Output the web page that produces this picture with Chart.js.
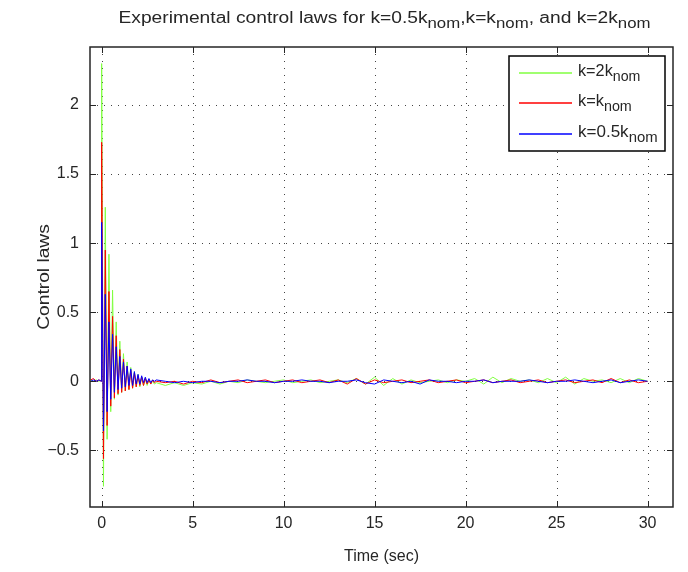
<!DOCTYPE html>
<html>
<head>
<meta charset="utf-8">
<script src="https://cdn.jsdelivr.net/npm/chart.js@4/dist/chart.umd.min.js"></script>
<style>
html, body { margin: 0; padding: 0; background: #fff; }
</style>
</head>
<body>
<canvas id="c" width="688" height="572"></canvas>
<script>
// time axis (sec): short lead-in, dense transient, coarser tail
const time = [
  -0.6, -0.45, -0.3, -0.15, -0.02,
  0, 0.1, 0.2, 0.3, 0.4, 0.5, 0.6, 0.7, 0.8, 0.9, 1.0, 1.1, 1.2, 1.3, 1.4, 1.5,
  1.6, 1.7, 1.8, 1.9, 2.0, 2.1, 2.2, 2.3, 2.4, 2.5, 2.6, 2.7, 2.8, 2.9, 3.0,
  3.5, 4, 4.5, 5, 5.5, 6, 6.5, 7, 7.5, 8, 8.5, 9, 9.5, 10, 10.5, 11, 11.5, 12, 12.5, 13,
  13.5, 14, 14.5, 15, 15.5, 16, 16.5, 17, 17.5, 18, 18.5, 19, 19.5, 20, 20.5, 21, 21.5, 22, 22.5, 23,
  23.5, 24, 24.5, 25, 25.5, 26, 26.5, 27, 27.5, 28, 28.5, 29, 29.5, 30
];
// k = 2 knom
const kDouble = [
  0.01, 0.0, 0.01, 0.0, 0.01,
  2.30, -0.76, 1.26, -0.42, 0.92, -0.22, 0.66, -0.13, 0.43, -0.10, 0.29, -0.08, 0.20, -0.07, 0.14, -0.06,
  0.10, -0.05, 0.07, -0.04, 0.05, -0.04, 0.03, -0.03, 0.02, -0.03, 0.01, -0.02, 0.0, -0.02, -0.01,
  -0.03, -0.01, -0.03, -0.01, -0.02, 0.0, -0.02, 0.0, -0.01, 0.01, 0.0, -0.01, 0.0, 0.01, -0.01, 0.0, 0.01, -0.01, 0.0, 0.01,
  -0.01, 0.02, -0.02, 0.03, -0.03, 0.02, -0.02, 0.01, -0.01, 0.0, 0.01, -0.01, 0.01, 0.0, 0.02, -0.02, 0.03, -0.01, 0.02, 0.0,
  0.01, -0.01, 0.02, -0.01, 0.03, -0.02, 0.02, 0.0, 0.01, -0.01, 0.02, -0.01, 0.02, 0.0
];
// k = knom
const kNom = [
  0.01, 0.02, 0.0, 0.01, 0.0,
  1.73, -0.56, 0.95, -0.32, 0.65, -0.18, 0.47, -0.12, 0.33, -0.09, 0.23, -0.08, 0.16, -0.07, 0.11, -0.06,
  0.08, -0.05, 0.06, -0.04, 0.04, -0.03, 0.03, -0.03, 0.02, -0.02, 0.01, -0.02, 0.01, -0.01, 0.0,
  -0.01, 0.0, -0.02, 0.0, -0.01, 0.01, -0.01, 0.0, 0.01, -0.01, 0.0, 0.01, -0.01, 0.0, 0.01, -0.01, 0.0, 0.01, -0.01, 0.01,
  -0.02, 0.02, -0.02, 0.01, -0.01, 0.0, 0.01, -0.01, 0.0, 0.01, -0.01, 0.0, 0.01, -0.01, 0.0, 0.01, -0.01, 0.0, 0.01, -0.01,
  0.0, 0.01, -0.01, 0.0, 0.01, -0.01, 0.0, 0.01, -0.01, 0.02, -0.01, 0.01, -0.01, 0.0
];
// k = 0.5 knom
const kHalf = [
  0.0, 0.01, 0.0, 0.01, 0.0,
  1.15, -0.36, 0.63, -0.22, 0.43, -0.13, 0.34, -0.08, 0.25, -0.06, 0.18, -0.05, 0.14, -0.04, 0.11, -0.03,
  0.09, -0.03, 0.07, -0.02, 0.05, -0.02, 0.04, -0.01, 0.03, -0.01, 0.02, -0.01, 0.01, 0.0, 0.01,
  0.0, -0.01, 0.0, -0.01, 0.0, 0.0, -0.01, 0.0, 0.0, 0.01, 0.0, 0.0, -0.01, 0.0, 0.0, 0.01, 0.0, 0.0, -0.01, 0.0,
  0.0, 0.01, -0.01, -0.02, 0.01, 0.0, -0.01, 0.0, -0.02, 0.01, 0.0, 0.0, -0.01, 0.0, 0.0, 0.01, -0.01, 0.0, 0.0, 0.0,
  0.01, 0.0, -0.01, 0.0, 0.0, 0.01, 0.0, -0.01, 0.0, 0.01, -0.01, 0.0, 0.01, 0.0
];
const xTicks = [0, 5, 10, 15, 20, 25, 30];
const yTicks = [-0.5, 0, 0.5, 1, 1.5, 2];
const seriesNames = [['k=2k', 'nom'], ['k=k', 'nom'], ['k=0.5k', 'nom']];
const seriesColors = ['#80ff40', '#ff0000', '#0000ff'];

const FONT = '"Liberation Sans", Arial, sans-serif';
const INK = '#262626';

// text made of [text, isSubscript] pieces, optionally stretched to a width
function richWidth(ctx, parts, size, subSize) {
  let w = 0;
  parts.forEach(([t, sub]) => {
    ctx.font = (sub ? subSize : size) + 'px ' + FONT;
    w += ctx.measureText(t).width;
  });
  return w;
}
function drawRich(ctx, parts, x, baseY, size, subSize, align, width) {
  const w = richWidth(ctx, parts, size, subSize);
  const sx = width ? width / w : 1;
  ctx.save();
  ctx.translate(align === 'center' ? x - w * sx / 2 : x, baseY);
  ctx.scale(sx, 1);
  ctx.textAlign = 'left';
  ctx.textBaseline = 'alphabetic';
  let cx = 0;
  parts.forEach(([t, sub]) => {
    ctx.font = (sub ? subSize : size) + 'px ' + FONT;
    ctx.fillText(t, cx, sub ? size * 0.3 : 0);
    cx += ctx.measureText(t).width;
  });
  ctx.restore();
}

const matlabFrame = {
  id: 'matlabFrame',
  beforeDatasetsDraw(chart) {
    const { ctx, chartArea: a, scales: { x, y } } = chart;
    ctx.save();
    ctx.strokeStyle = '#444';
    ctx.lineWidth = 1;
    ctx.setLineDash([1, 6]);
    xTicks.forEach(v => {
      const px = Math.round(x.getPixelForValue(v)) + 0.5;
      ctx.beginPath(); ctx.moveTo(px, a.top); ctx.lineTo(px, a.bottom); ctx.stroke();
    });
    yTicks.forEach(v => {
      const py = Math.round(y.getPixelForValue(v)) + 0.5;
      ctx.beginPath(); ctx.moveTo(a.left, py); ctx.lineTo(a.right, py); ctx.stroke();
    });
    ctx.restore();
  },
  afterDatasetsDraw(chart) {
    const { ctx, chartArea: a, scales: { x, y } } = chart;
    ctx.save();
    // axes box + inward ticks
    ctx.strokeStyle = INK;
    ctx.lineWidth = 1.5;
    ctx.strokeRect(a.left, a.top, a.right - a.left, a.bottom - a.top);
    ctx.lineWidth = 1;
    const tl = 6;
    ctx.beginPath();
    xTicks.forEach(v => {
      const px = Math.round(x.getPixelForValue(v)) + 0.5;
      ctx.moveTo(px, a.bottom); ctx.lineTo(px, a.bottom - tl);
      ctx.moveTo(px, a.top); ctx.lineTo(px, a.top + tl);
    });
    yTicks.forEach(v => {
      const py = Math.round(y.getPixelForValue(v)) + 0.5;
      ctx.moveTo(a.left, py); ctx.lineTo(a.left + tl, py);
      ctx.moveTo(a.right, py); ctx.lineTo(a.right - tl, py);
    });
    ctx.stroke();

    // legend
    const lx = 509, ly = 56, lw = 156, lh = 95;
    ctx.fillStyle = '#fff';
    ctx.fillRect(lx, ly, lw, lh);
    ctx.strokeStyle = '#000';
    ctx.lineWidth = 1.5;
    ctx.strokeRect(lx, ly, lw, lh);
    const rows = [73, 103, 134];
    seriesNames.forEach((name, i) => {
      ctx.strokeStyle = seriesColors[i];
      ctx.lineWidth = 1.6;
      ctx.beginPath(); ctx.moveTo(519, rows[i]); ctx.lineTo(572, rows[i]); ctx.stroke();
      ctx.fillStyle = INK;
      drawRich(ctx, [[name[0], false], [name[1], true]], 578, rows[i] + 3, 16, 14, 'left', name[0].length * 8.6 + 28);
    });

    // title
    const cx = (a.left + a.right) / 2;
    ctx.fillStyle = INK;
    drawRich(ctx, [
      ['Experimental control laws for k=0.5k', false], ['nom', true],
      [',k=k', false], ['nom', true],
      [', and k=2k', false], ['nom', true]
    ], cx + 3, 23, 16, 14, 'center', 532);

    // axis labels
    ctx.font = '16px ' + FONT;
    ctx.textAlign = 'center';
    ctx.textBaseline = 'middle';
    ctx.fillText('Time (sec)', cx, 557);
    ctx.translate(45, (a.top + a.bottom) / 2);
    ctx.rotate(-Math.PI / 2);
    ctx.scale(1.2, 1);
    ctx.fillText('Control laws', 0, 0);
    ctx.restore();
  }
};

const pts = arr => time.map((t, i) => ({ x: t, y: arr[i] }));

new Chart(document.getElementById('c'), {
  type: 'line',
  data: {
    datasets: [
      { label: 'k=2knom', data: pts(kDouble), borderColor: seriesColors[0], order: 3 },
      { label: 'k=knom', data: pts(kNom), borderColor: seriesColors[1], order: 2 },
      { label: 'k=0.5knom', data: pts(kHalf), borderColor: seriesColors[2], order: 1 }
    ]
  },
  options: {
    responsive: false,
    animation: false,
    layout: { padding: { left: 0, right: 15, top: 47, bottom: 0 } },
    elements: { point: { radius: 0 }, line: { borderWidth: 1, tension: 0 } },
    plugins: { legend: { display: false }, title: { display: false }, tooltip: { enabled: false } },
    scales: {
      x: {
        type: 'linear', min: -0.64, max: 31.4,
        afterFit: s => { s.height = 65; },
        afterBuildTicks: s => { s.ticks = xTicks.map(v => ({ value: v })); },
        grid: { display: false, drawTicks: false }, border: { display: false },
        ticks: { padding: 7, color: INK, font: { family: FONT, size: 16 }, maxRotation: 0, autoSkip: false }
      },
      y: {
        type: 'linear', min: -0.91, max: 2.42,
        afterFit: s => { s.width = 90; },
        afterBuildTicks: s => { s.ticks = yTicks.map(v => ({ value: v })); },
        grid: { display: false, drawTicks: false }, border: { display: false },
        ticks: {
          padding: 11, color: INK, font: { family: FONT, size: 16 }, autoSkip: false,
          callback: v => String(v).replace('-', '\u2212')
        }
      }
    }
  },
  plugins: [matlabFrame]
});
</script>
</body>
</html>
